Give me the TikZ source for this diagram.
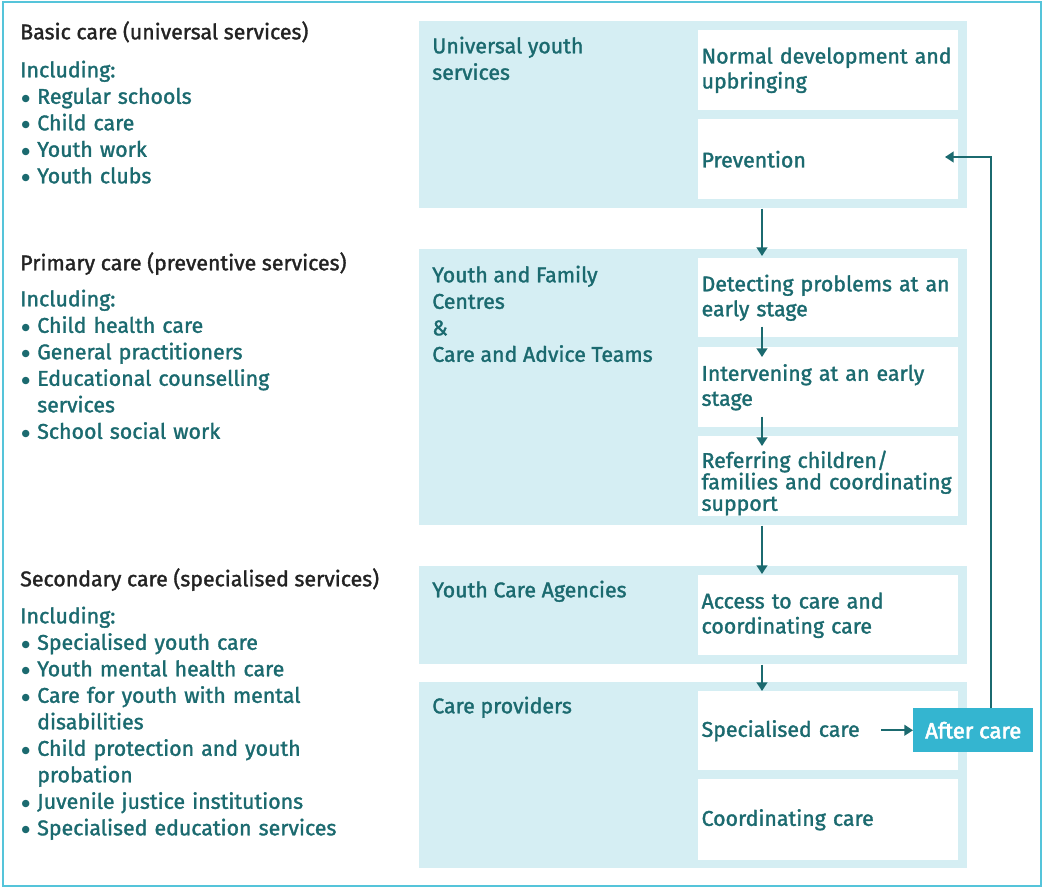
\documentclass[tikz,border=0pt]{standalone}
\usepackage{fontspec}
\setmainfont{Fira Sans}[FakeBold=1.5]
\newfontfamily\dotfont{DejaVu Sans}
\newfontfamily\afterfont{Fira Sans}[FakeBold=2.5]
\usetikzlibrary{arrows.meta,calc}
\definecolor{inktext}{HTML}{1B6A6F}
\definecolor{inkhead}{HTML}{232323}
\definecolor{panelfill}{HTML}{D5EEF3}
\definecolor{aftercol}{HTML}{34B5D0}
\definecolor{framecol}{HTML}{55C4DA}
\newcommand{\bul}{\makebox[12.75pt][l]{\hspace{1pt}\raisebox{2pt}{\dotfont\fontsize{7.2}{7.2}\selectfont ●}}}
\newcommand{\cont}{\hspace*{12.75pt}}
\begin{document}
\begin{tikzpicture}[x=0.75pt,y=-0.75pt,
  txt/.style={font=\fontsize{16}{19.875}\selectfont, text=inktext, inner sep=0pt, anchor=north west, align=left},
  headtxt/.style={txt, text=inkhead},
  panel/.style={fill=panelfill, draw=none, anchor=north west, inner sep=0pt, minimum width=411pt},
  stepbox/.style={fill=white, draw=none, anchor=north west, inner xsep=2.5pt, inner ysep=0pt,
    minimum width=195pt, minimum height=60pt, text width=190pt, align=left,
    font=\fontsize{16}{18.75}\selectfont, text=inktext},
  flow/.style={draw=inktext, line width=1.5pt, -{Triangle[width=8pt,length=6.5pt]}}
]
\useasboundingbox (0,0) rectangle (1043,889);
% outer frame
\draw[framecol, line width=1.6pt] (3,2) rectangle (1041,886);

% left column: levels of care
\node[headtxt] (basic) at (20,20.5) {\strut Basic care (universal services)};
\node[txt, text width=285pt] (basiclist) at (20,58.5) {\strut Including:\\
  \bul Regular schools\\ \bul Child care\\ \bul Youth work\\ \bul Youth clubs};

\node[headtxt] (primary) at (20,251.5) {\strut Primary care (preventive services)};
\node[txt, text width=285pt] (primarylist) at (20,287.5) {\strut Including:\\
  \bul Child health care\\ \bul General practitioners\\ \bul Educational counselling\\
  \cont services\\ \bul School social work};

\node[headtxt] (secondary) at (20,567.5) {\strut Secondary care (specialised services)};
\node[txt, text width=285pt] (secondarylist) at (20,604.5) {\strut Including:\\
  \bul Specialised youth care\\ \bul Youth mental health care\\ \bul Care for youth with mental\\
  \cont disabilities\\ \bul Child protection and youth\\ \cont probation\\
  \bul Juvenile justice institutions\\ \bul Specialised education services};

% right column: service panels
\node[panel, minimum height=140.25pt] (p1) at (419,21) {};
\node[panel, minimum height=207pt] (p2) at (419,249) {};
\node[panel, minimum height=73.5pt] (p3) at (419,566) {};
\node[panel, minimum height=139.5pt] (p4) at (419,682) {};

\node[txt] (p1lab) at (432,34.5) {\strut Universal youth\\ services};
\node[txt] (p2lab) at (432,263.5) {\strut Youth and Family\\ Centres\\ \&\\ Care and Advice Teams};
\node[txt] (p3lab) at (432,578.5) {\strut Youth Care Agencies};
\node[txt] (p4lab) at (432,694.5) {\strut Care providers};

% steps
\node[stepbox] (normal) at (698,30) {Normal development and\\ upbringing};
\node[stepbox] (prev) at (698,119) {Prevention};
\node[stepbox, minimum height=59.25pt] (detect) at (698,258) {Detecting problems at an\\ early stage};
\node[stepbox] (interv) at (698,347) {Intervening at an early\\ stage};
\node[stepbox, font=\fontsize{16}{16.1}\selectfont] (refer) at (698,436) {\rule{0pt}{23pt}Referring children/\\ families and coordinating\\ support};
\node[stepbox] (access) at (698,575) {Access to care and\\ coordinating care};
\node[stepbox, minimum height=59.25pt] (spec) at (698,691) {Specialised care};
\node[stepbox, minimum height=60.75pt] (coord) at (698,779) {Coordinating care};

\node[fill=aftercol, text=white, anchor=north west, inner sep=0pt, minimum width=90pt, minimum height=33pt,
  font=\afterfont\fontsize{16.5}{18}\selectfont] (after) at (913,708) {After care};

% flow
\coordinate (col) at (762,0);
\coordinate (back) at (991,0);
\coordinate (previn) at (945,157);
\draw[flow] (p1.south -| col) -- ($(p2.north -| col)+(0,7)$);
\draw[flow] ($(detect.south -| col)+(0,-11)$) -- ($(interv.north -| col)+(0,10)$);
\draw[flow] ($(interv.south -| col)+(0,-11)$) -- ($(refer.north -| col)+(0,10)$);
\draw[flow] (p2.south -| col) -- ($(p3.north -| col)+(0,8)$);
\draw[flow] (p3.south -| col) -- ($(p4.north -| col)+(0,9)$);
\draw[flow] ($(after.west)+(-32,0)$) -- (after.west);
\draw[flow] (after.north -| back) |- (previn);
\end{tikzpicture}
\end{document}
